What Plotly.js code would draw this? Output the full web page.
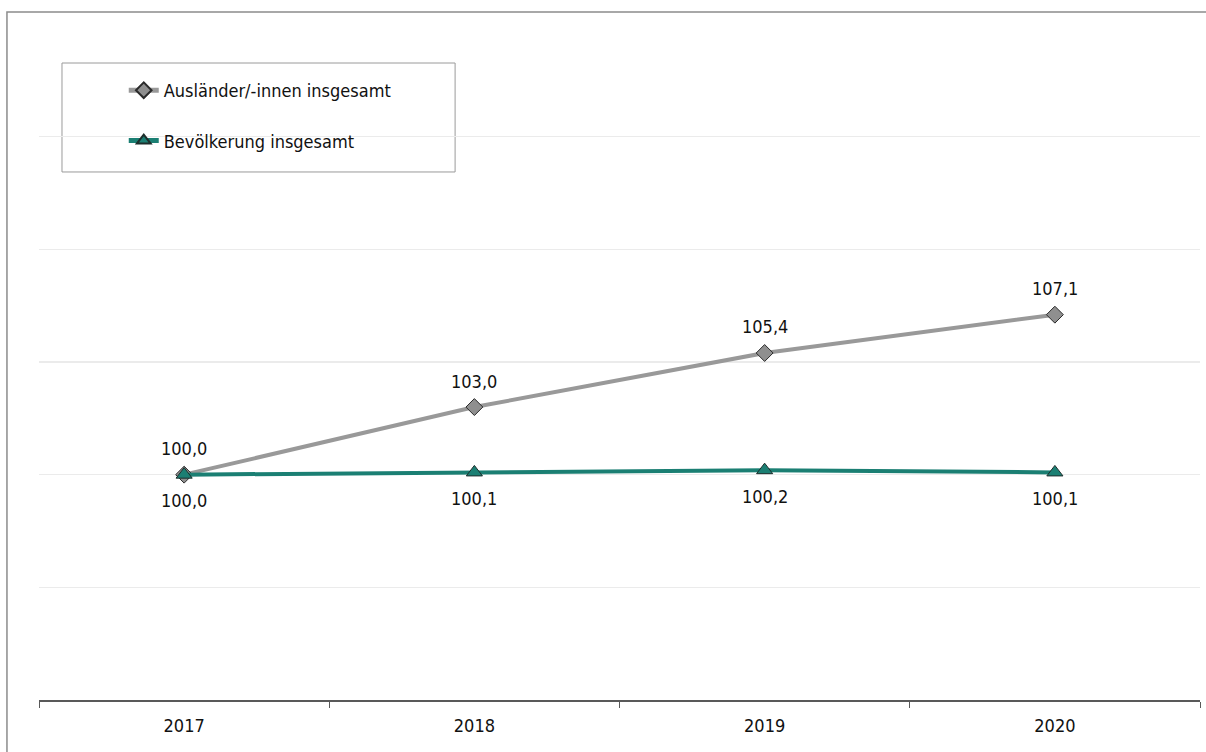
<!DOCTYPE html>
<html>
<head>
<meta charset="utf-8">
<script src="https://cdn.plot.ly/plotly-3.0.1.min.js"></script>
<style>html,body{margin:0;padding:0;background:#fff}#chart{width:1206px;height:752px}</style>
</head>
<body>
<div id="chart"></div>
<script>
const years = ['2017', '2018', '2019', '2020'];
const auslaender = [100.0, 103.0, 105.4, 107.1];
const bevoelkerung = [100.0, 100.1, 100.2, 100.1];
const seriesNames = ['Ausländer/-innen insgesamt', 'Bevölkerung insgesamt'];

const FONT = '"DejaVu Sans Condensed", "Liberation Sans", sans-serif';
const fmt = v => v.toFixed(1).replace('.', ',');

const traces = [
  {
    x: years, y: auslaender, name: seriesNames[0], type: 'scatter', mode: 'lines+markers',
    line: {color: '#999999', width: 4},
    marker: {symbol: 'diamond', size: 13, color: '#8f8f8f', line: {color: '#2b2b2b', width: 1}},
    legendgroup: 'a'
  },
  {
    x: years, y: bevoelkerung, name: seriesNames[1], type: 'scatter', mode: 'lines+markers',
    line: {color: '#1b7f73', width: 4},
    marker: {symbol: 'triangle-up', size: 14, color: '#1b7f73', line: {color: '#1e2e2c', width: 1}},
    legendgroup: 'b'
  }
];

const annotations = [];
years.forEach((yr, i) => {
  annotations.push({x: i, y: auslaender[i], xref: 'x', yref: 'y', text: fmt(auslaender[i]),
    showarrow: false, yshift: 26, font: {family: FONT, size: 18, color: '#111'}});
  annotations.push({x: i, y: bevoelkerung[i], xref: 'x', yref: 'y', text: fmt(bevoelkerung[i]),
    showarrow: false, yshift: -26, font: {family: FONT, size: 18, color: '#111'}});
});

const layout = {
  width: 1206, height: 752,
  margin: {l: 39, r: 6, t: 24, b: 52},
  paper_bgcolor: '#fff', plot_bgcolor: '#fff',
  font: {family: FONT, size: 18, color: '#111'},
  showlegend: true,
  legend: {
    x: 0.073, y: 0.929, xanchor: 'left', yanchor: 'top',
    bgcolor: 'rgba(0,0,0,0)', borderwidth: 0,
    tracegroupgap: 24, traceorder: 'grouped', itemsizing: 'constant',
    font: {family: FONT, size: 18, color: '#111'}
  },
  annotations: annotations,
  xaxis: {
    type: 'category', range: [-0.5, 3.5], tickson: 'boundaries', ticks: 'outside', ticklen: 6, tickcolor: '#595959',
    showline: true, linecolor: '#595959', linewidth: 1.5, ticklabelstandoff: 9,
    showgrid: false, zeroline: false, fixedrange: true,
    tickfont: {family: FONT, size: 18, color: '#111'}
  },
  yaxis: {
    range: [90, 120], dtick: 5, tick0: 90, showticklabels: false, ticks: '',
    showgrid: true, gridcolor: '#ebebeb', gridwidth: 1.5,
    zeroline: false, showline: false, fixedrange: true
  },
  shapes: [
    {type: 'rect', xref: 'paper', yref: 'paper', x0: -0.0276, x1: 1.02, y0: -0.2, y1: 1.0178,
     line: {color: '#8c8c8c', width: 1.5}, fillcolor: 'rgba(0,0,0,0)', layer: 'above'},
    {type: 'rect', xref: 'paper', yref: 'paper', x0: 0.0198, x1: 0.3584, y0: 0.7811, y1: 0.9423,
     line: {color: '#9a9a9a', width: 1}, fillcolor: '#fff', layer: 'below'}
  ]
};

Plotly.newPlot('chart', traces, layout, {displayModeBar: false, staticPlot: true});
</script>
</body>
</html>
